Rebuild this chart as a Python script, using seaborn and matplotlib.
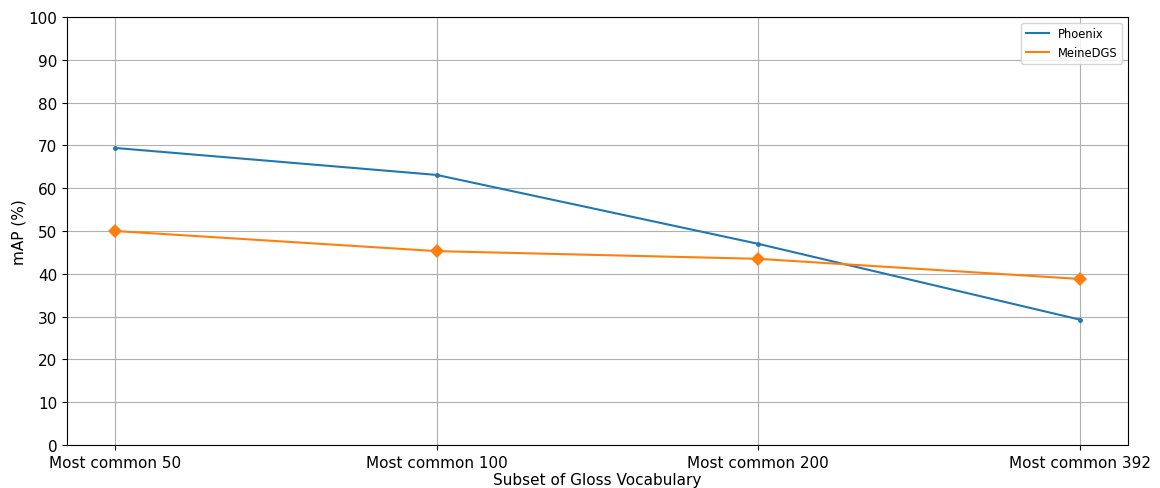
import matplotlib
matplotlib.use("Agg")
import matplotlib.pyplot as plt
from matplotlib.lines import Line2D
import seaborn as sns
import pandas as pd

categories = ["Most common 50", "Most common 100", "Most common 200", "Most common 392"]
phoenix = [69.4, 63.1, 47.0, 29.3]
meinedgs = [50.0, 45.3, 43.5, 38.8]
y_ticks = list(range(0, 101, 10))

df = pd.DataFrame({
    "subset": categories * 2,
    "mAP": phoenix + meinedgs,
    "dataset": ["Phoenix"] * 4 + ["MeineDGS"] * 4,
})

plt.rcParams["font.family"] = ["DejaVu Sans"]
fig, ax = plt.subplots(figsize=(11.6, 4.89), dpi=100)
fig.subplots_adjust(left=0.0578, right=0.9724, top=0.9632, bottom=0.0879)

palette = {"Phoenix": "#1f77b4", "MeineDGS": "#ff7f0e"}
sns.lineplot(data=df, x="subset", y="mAP", hue="dataset", style="dataset",
             markers={"Phoenix": "o", "MeineDGS": "D"}, dashes=False,
             palette=palette, sort=False, ax=ax, legend=False,
             linewidth=1.5, markeredgewidth=0)
# marker sizes per series
for line, ms in zip(ax.get_lines(), [3.5, 7.5]):
    line.set_markersize(ms)

ax.set_ylim(0, 100)
ax.set_yticks(y_ticks)
ax.set_xlabel("Subset of Gloss Vocabulary", fontsize=11, labelpad=1.5)
ax.set_ylabel("mAP (%)", fontsize=11, labelpad=1.5)
ax.tick_params(labelsize=11)
ax.grid(True, color="#b0b0b0", linewidth=0.8)
ax.set_axisbelow(True)
for s in ax.spines.values():
    s.set_color("black")

handles = [Line2D([0], [0], color=palette["Phoenix"], lw=1.5),
           Line2D([0], [0], color=palette["MeineDGS"], lw=1.5)]
ax.legend(handles, ["Phoenix", "MeineDGS"], loc="upper right", fontsize=8.3)

fig.savefig("out.png", dpi=100)
